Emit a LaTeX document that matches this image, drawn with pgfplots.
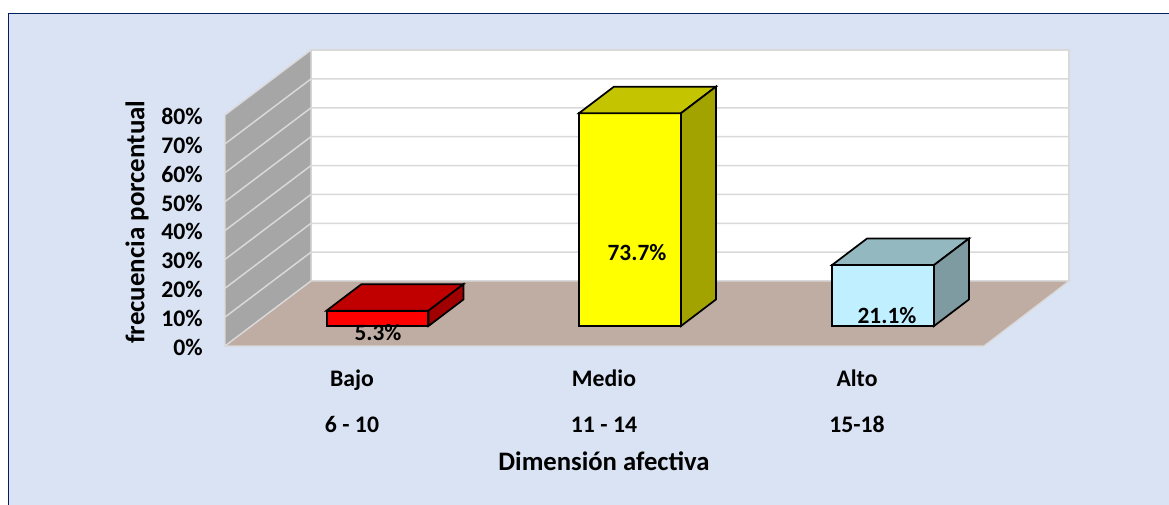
\documentclass[border=0pt]{standalone}
\usepackage{pgfplots}
\pgfplotsset{compat=1.18}
\usepackage{fontspec}
\setmainfont{Carlito}
\definecolor{bgc}{HTML}{DAE3F3}
\definecolor{navy}{HTML}{002060}
\definecolor{wallc}{HTML}{A6A6A6}
\definecolor{floorc}{HTML}{BFADA3}
\definecolor{gridc}{HTML}{D9D9D9}
\definecolor{rf}{HTML}{FF0000}\definecolor{rt}{HTML}{C00000}\definecolor{rs}{HTML}{A00000}
\definecolor{yf}{HTML}{FFFF00}\definecolor{yt}{HTML}{C4C400}\definecolor{ys}{HTML}{A3A300}
\definecolor{cf}{HTML}{C0F0FF}\definecolor{ct}{HTML}{94B8BF}\definecolor{cs}{HTML}{7F9BA2}
\begin{document}
\begin{tikzpicture}[x=0.75pt,y=0.75pt]
\begin{axis}[
  set layers=axis on top,
  scale only axis, width=633pt, height=173.25pt,
  xmin=225, xmax=1069, ymin=0, ymax=80,
  clip=false,
  axis line style={draw=none},
  major tick length=0pt,
  xtick={352,604,857},
  xticklabels={{Bajo\\6 - 10},{Medio\\11 - 14},{Alto\\15-18}},
  xticklabel style={align=center, inner sep=0pt, yshift=-17.5pt,
    font=\bfseries\fontsize{17.8}{34.5}\selectfont},
  ytick={0,10,...,80},
  yticklabels={0\%,10\%,20\%,30\%,40\%,50\%,60\%,70\%,80\%},
  yticklabel style={inner sep=0pt, xshift=-16.5pt, yshift=-1pt,
    font=\bfseries\fontsize{17.8}{20}\selectfont},
  xlabel={Dimensión afectiva},
  ylabel={frecuencia porcentual},
  every axis x label/.style={at={(axis cs:604,-39.8)},anchor=center,
    font=\bfseries\fontsize{20}{22}\selectfont},
  every axis y label/.style={at={(axis cs:137,42.9)},anchor=center,rotate=90,
    font=\bfseries\fontsize{20.2}{22}\selectfont},
]
% panel (white page shows above and to the left of it)
\addplot[draw=none, fill=bgc, forget plot] coordinates {(8.5,115.15) (1185,115.15) (1185,-62) (8.5,-62)} -- cycle;
\addplot[draw=navy, line width=1.2pt, forget plot] coordinates {(8.5,-62) (8.5,115.15) (1185,115.15)};
% walls and floor
\addplot[draw=gridc, fill=white, line width=1pt, forget plot] coordinates {(311,22.5) (1069,22.5) (1069,102.5) (311,102.5)} -- cycle;
\addplot[draw=gridc, fill=wallc, line width=1pt, forget plot] coordinates {(225,0) (311,22.5) (311,102.5) (225,80)} -- cycle;
\addplot[draw=gridc, fill=floorc, line width=1pt, forget plot] coordinates {(225,0) (311,22.5) (1069,22.5) (984,0)} -- cycle;
% grid lines
\pgfplotsinvokeforeach{10,20,30,40,50,60,70}{
  \addplot[draw=gridc, line width=1.1pt, forget plot] table[row sep=\\, y expr=\thisrow{y}+#1] {x y\\225 0\\311 22.5\\1069 22.5\\};
}
% Bajo 5.3
\addplot[ybar, bar width=76pt, bar shift=0pt, fill=rf, draw=black, line width=1.3pt, yshift=15pt] coordinates {(377.5,5.3)};
\addplot[fill=rt, draw=black, line width=1.3pt, yshift=15pt, forget plot] coordinates {(326.5,5.3) (428.5,5.3) (463.5,14.5) (361.5,14.5)} -- cycle;
\addplot[fill=rs, draw=black, line width=1.3pt, yshift=15pt, forget plot] coordinates {(428.5,0) (463.5,9.2) (463.5,14.5) (428.5,5.3)} -- cycle;
% Medio 73.7
\addplot[ybar, bar width=76pt, bar shift=0pt, fill=yf, draw=black, line width=1.3pt, yshift=15pt] coordinates {(630,73.7)};
\addplot[fill=yt, draw=black, line width=1.3pt, yshift=15pt, forget plot] coordinates {(579,73.7) (681,73.7) (716,82.9) (614,82.9)} -- cycle;
\addplot[fill=ys, draw=black, line width=1.3pt, yshift=15pt, forget plot] coordinates {(681,0) (716,9.2) (716,82.9) (681,73.7)} -- cycle;
% Alto 21.1
\addplot[ybar, bar width=76pt, bar shift=0pt, fill=cf, draw=black, line width=1.3pt, yshift=15pt] coordinates {(883,21.1)};
\addplot[fill=ct, draw=black, line width=1.3pt, yshift=15pt, forget plot] coordinates {(832,21.1) (934,21.1) (969,30.3) (867,30.3)} -- cycle;
\addplot[fill=cs, draw=black, line width=1.3pt, yshift=15pt, forget plot] coordinates {(934,0) (969,9.2) (969,30.3) (934,21.1)} -- cycle;
% value labels
\node[font=\bfseries\fontsize{17.5}{20}\selectfont] at (axis cs:378,4.5) {5.3\%};
\node[font=\bfseries\fontsize{17.5}{20}\selectfont] at (axis cs:637,32.5) {73.7\%};
\node[font=\bfseries\fontsize{17.5}{20}\selectfont] at (axis cs:887,10.4) {21.1\%};
\end{axis}
\pgfresetboundingbox
\useasboundingbox (-168.75pt,-118.5pt) rectangle (708pt,259.5pt);
\end{tikzpicture}
\end{document}
